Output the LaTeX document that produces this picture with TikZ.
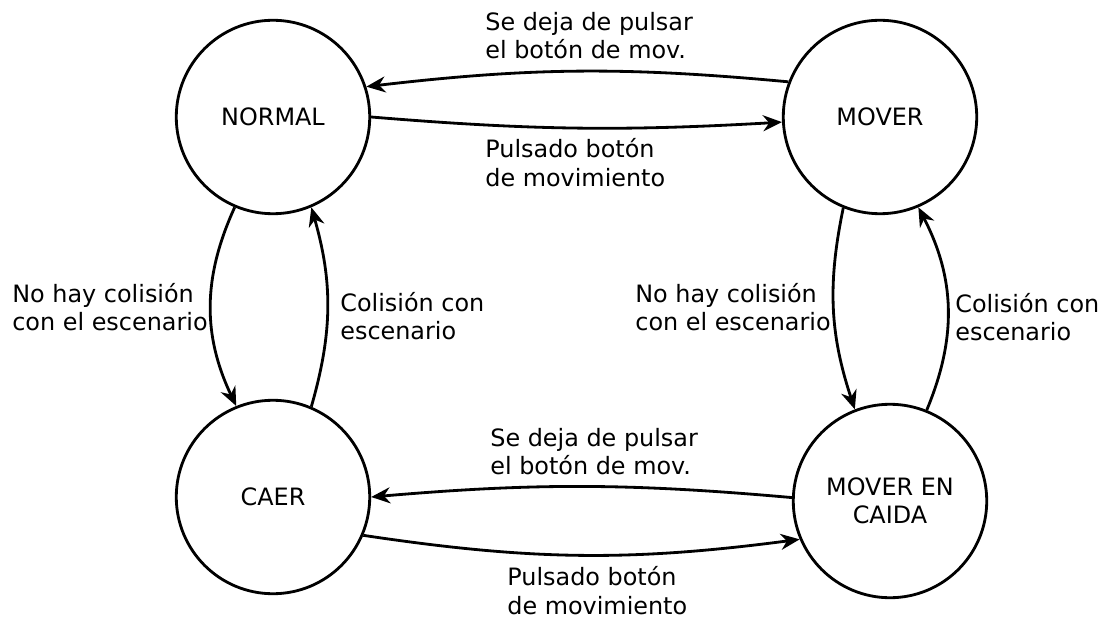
\documentclass[tikz,border=0pt]{standalone}
\usepackage{fontspec}
\setmainfont{DejaVu Sans}
\usetikzlibrary{arrows.meta}

\begin{document}
\begin{tikzpicture}[x=0.02cm,y=-0.02cm,
	font=\fontsize{13.6}{16}\selectfont,
	state/.style={draw, circle, line width=1.6pt, inner sep=0pt, minimum size=3.87cm, align=center},
	lbl/.style={anchor=north west, inner sep=0pt, align=left},
	trans/.style={draw, line width=1.6pt, -{Stealth[length=3.8mm,width=3.2mm]}}]
	\useasboundingbox (0,0) rectangle (1101,621);
	% estados
	\node	(normal) at (273,117) [state] {NORMAL};
	\node	(mover) at (880,117) [state] {MOVER};
	\node	(caer) at (273,497) [state] {CAER};
	\node	(movercaida) at (890,501) [state] {MOVER EN\\CAIDA};
	% etiquetas
	\node	(soltarA) at (485,12) [lbl] {Se deja de pulsar\\el botón de mov.};
	\node	(pulsarA) at (485,138.5) [lbl] {Pulsado botón\\de movimiento};
	\node	(nocolA) at (12,283) [lbl] {No hay colisión\\con el escenario};
	\node	(colA) at (340,292) [lbl] {Colisión con\\escenario};
	\node	(nocolB) at (635,283) [lbl] {No hay colisión\\con el escenario};
	\node	(colB) at (955,293) [lbl] {Colisión con\\escenario};
	\node	(soltarB) at (490,427.5) [lbl] {Se deja de pulsar\\el botón de mov.};
	\node	(pulsarB) at (507,566.5) [lbl] {Pulsado botón\\de movimiento};
	\path
	(mover.159) edge[trans, bend right=6] (normal.18)
	(normal.0) edge[trans, bend right=4] (mover.183)
	(normal.-113) edge[trans, bend right=25] (caer.112)
	(caer.67) edge[trans, bend right=16] (normal.-67)
	(mover.-112) edge[trans, bend right=15] (movercaida.111)
	(movercaida.68) edge[trans, bend right=25] (mover.-67)
	(movercaida.178) edge[trans, bend right=5] (caer.0)
	(caer.-23) edge[trans, bend right=8] (movercaida.-157)
	;
\end{tikzpicture}
\end{document}
